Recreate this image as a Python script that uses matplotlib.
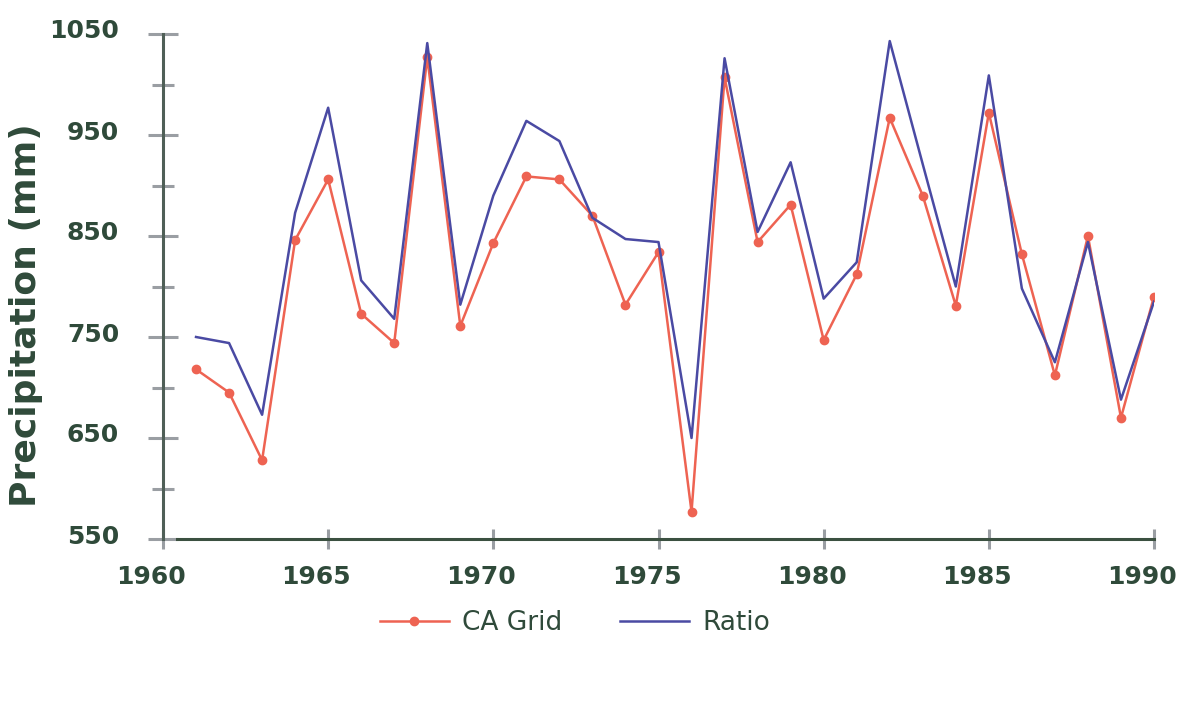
import matplotlib
matplotlib.use("Agg")
from matplotlib import pyplot as plt
from matplotlib.transforms import ScaledTranslation

years = list(range(1961, 1991))
ca_grid = [718, 695, 628, 846, 906, 773, 744, 1027, 761, 843,
           909, 906, 870, 782, 834, 577, 1007, 844, 881, 747,
           812, 967, 890, 781, 972, 832, 712, 850, 670, 790]
ratio = [750, 744, 673, 873, 977, 806, 768, 1041, 782, 890,
         964, 944, 868, 847, 844, 650, 1026, 854, 923, 788,
         824, 1043, 921, 800, 1009, 798, 725, 844, 688, 785]
x_ticks = [1960, 1965, 1970, 1975, 1980, 1985, 1990]
y_ticks = [550, 650, 750, 850, 950, 1050]
y_minor = [600, 700, 800, 900, 1000]

txt = "#2f4a3a"
tick_c = "#9a9ea3"
red = "#ee6352"
blue = "#4a4aa3"

fig = plt.figure(figsize=(11.85, 7.02), dpi=100)
ax = fig.add_axes([163/1185, 1-539/702, (1154-163)/1185, (539-34)/702])

ax.plot(years, ca_grid, color=red, lw=1.8, marker="o", ms=6, label="CA Grid")
ax.plot(years, ratio, color=blue, lw=1.8, label="Ratio")

ax.set_xlim(1960, 1990)
ax.set_ylim(550, 1050)
ax.set_xticks(x_ticks)
ax.set_yticks(y_ticks)
ax.set_yticks(y_minor, minor=True)

for s in ["top", "right"]:
    ax.spines[s].set_visible(False)
ax.spines["left"].set_color("#4f5f57")
ax.spines["bottom"].set_color("#3b5040")
ax.spines["left"].set_linewidth(2.2)
ax.spines["bottom"].set_linewidth(2.2)
ax.spines["bottom"].set_bounds(1960.42, 1990)

ax.tick_params(axis="y", which="major", direction="inout", length=21, width=2.2,
               color=tick_c, labelsize=18, labelcolor=txt, pad=21)
ax.tick_params(axis="y", which="minor", direction="inout", length=16, width=2.2,
               color=tick_c)
ax.tick_params(axis="x", which="major", direction="inout", length=14, width=2.2,
               color=tick_c, labelsize=18, labelcolor=txt, pad=12)

dx = ScaledTranslation(-12/100, 0, fig.dpi_scale_trans)
dy = ScaledTranslation(0, 5/100, fig.dpi_scale_trans)
for lab in ax.get_xticklabels():
    lab.set_fontweight("bold")
    lab.set_transform(lab.get_transform() + dx)
for lab in ax.get_yticklabels():
    lab.set_fontweight("bold")
    lab.set_transform(lab.get_transform() + dy)

fig.text(26/1185, 1-315/702, "Precipitation (mm)", rotation=90, ha="center",
         va="center", fontsize=26, fontweight="bold", color=txt)

leg = fig.legend(loc="center", bbox_to_anchor=(575/1185, 1-623/702), ncol=2,
                 frameon=False, fontsize=19, handlelength=2.6, columnspacing=2.2,
                 handletextpad=0.5)
for t in leg.get_texts():
    t.set_color(txt)

fig.savefig("out.png", dpi=100)
